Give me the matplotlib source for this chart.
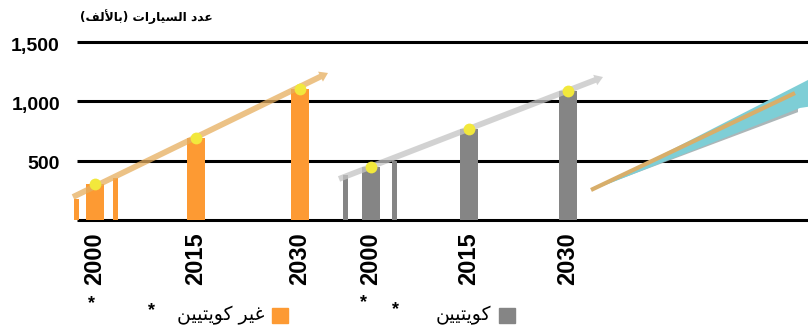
import matplotlib
matplotlib.use("Agg")
import matplotlib.pyplot as plt

# car counts in thousands
years = ["2000", "2015", "2030"]
non_kuwaiti = [300, 690, 1100]
kuwaiti = [445, 765, 1090]
# thin side bars flanking the 2000 column
non_kuwaiti_side = [177, 354]
kuwaiti_side = [380, 500]
# trend arrows: start and end value
non_kuwaiti_trend = [194, 1239]
kuwaiti_trend = [346, 1205]
# fan on the right: apex, line end, upper edge, lower edge
fan = [253, 1070, 1180, 944]
yticks = [500, 1000, 1500]
ytick_labels = ["500", "1,000", "1,500"]

title = "عدد السيارات (بالألف)"
label_non_kuwaiti = "غير كويتيين"
label_kuwaiti = "كويتيين"

# isolated, final, initial, medial
FORMS = {
    "ا": ("\uFE8D", "\uFE8E", None, None),
    "أ": ("\uFE83", "\uFE84", None, None),
    "ب": ("\uFE8F", "\uFE90", "\uFE91", "\uFE92"),
    "ت": ("\uFE95", "\uFE96", "\uFE97", "\uFE98"),
    "د": ("\uFEA9", "\uFEAA", None, None),
    "ر": ("\uFEAD", "\uFEAE", None, None),
    "س": ("\uFEB1", "\uFEB2", "\uFEB3", "\uFEB4"),
    "ع": ("\uFEC9", "\uFECA", "\uFECB", "\uFECC"),
    "غ": ("\uFECD", "\uFECE", "\uFECF", "\uFED0"),
    "ف": ("\uFED1", "\uFED2", "\uFED3", "\uFED4"),
    "ك": ("\uFED9", "\uFEDA", "\uFEDB", "\uFEDC"),
    "ل": ("\uFEDD", "\uFEDE", "\uFEDF", "\uFEE0"),
    "ن": ("\uFEE5", "\uFEE6", "\uFEE7", "\uFEE8"),
    "و": ("\uFEED", "\uFEEE", None, None),
    "ي": ("\uFEF1", "\uFEF2", "\uFEF3", "\uFEF4"),
}
LAM_ALEF = {"ا": ("\uFEFB", "\uFEFC"), "أ": ("\uFEF7", "\uFEF8")}


def shape(text):
    # pick joined letter forms, then lay the string out right to left
    out = []
    i = 0
    while i < len(text):
        c = text[i]
        if c not in FORMS:
            out.append(c)
            i += 1
            continue
        prev = text[i - 1] if i > 0 else ""
        joins_prev = prev in FORMS and FORMS[prev][2] is not None
        if c == "ل" and i + 1 < len(text) and text[i + 1] in LAM_ALEF:
            out.append(LAM_ALEF[text[i + 1]][1 if joins_prev else 0])
            i += 2
            continue
        nxt = text[i + 1] if i + 1 < len(text) else ""
        joins_next = FORMS[c][2] is not None and nxt in FORMS
        iso, fin, ini, med = FORMS[c]
        if joins_prev and joins_next:
            out.append(med)
        elif joins_prev:
            out.append(fin)
        elif joins_next:
            out.append(ini)
        else:
            out.append(iso)
        i += 1
    mirror = {"(": ")", ")": "("}
    return "".join(mirror.get(c, c) for c in reversed(out))


ORANGE = "#FD9A33"
GREY = "#858585"
W, H = 808, 331
ppu = 178 / 1500  # pixels per thousand cars

fig = plt.figure(figsize=(W / 100, H / 100), dpi=100)
ax = fig.add_axes([0, 0, 1, 1])
ax.set_xlim(0, W)
ax.set_ylim(-(H - 220) / ppu, 1500 + 42 / ppu)
ax.axis("off")

num_font = dict(family="Liberation Sans", weight="bold")

# horizontal rules incl. the baseline
ax.hlines([0] + yticks, 77, W, color="black", lw=2.2, zorder=1)
for v, lab in zip(yticks, ytick_labels):
    ax.annotate(lab, (60, v), xytext=(0, -3), textcoords="offset points",
                ha="right", va="center", fontsize=14, **num_font)

groups = [
    (non_kuwaiti, non_kuwaiti_side, non_kuwaiti_trend, ORANGE, "#E6AE5E",
     [95, 195.5, 300], [76, 115.5], [73, 328]),
    (kuwaiti, kuwaiti_side, kuwaiti_trend, GREY, "#C4C4C4",
     [371, 468.5, 567.5], [345.5, 394.5], [339, 603]),
]
for vals, side, trend, color, trend_color, xs, side_xs, trend_xs in groups:
    ax.bar(xs, vals, width=18, color=color, zorder=2)
    ax.bar(side_xs, side, width=5, color=color, zorder=2)
    ax.annotate("", xy=(trend_xs[1], trend[1]), xytext=(trend_xs[0], trend[0]),
                arrowprops=dict(arrowstyle="simple,head_length=0.6,head_width=0.8,tail_width=0.42",
                                mutation_scale=10, color=trend_color, alpha=0.75,
                                lw=0, shrinkA=0, shrinkB=0), zorder=3)
    ax.plot(xs, vals, "o", ms=8.5, color="#F2E83C", mec="none", zorder=4)
    for x, yr in zip(xs, years):
        ax.annotate(yr, (x, 0), xytext=(0, -9), textcoords="offset points",
                    rotation=90, ha="center", va="top", fontsize=17, **num_font)

# fan on the right: shadow under the lower edge, teal wedge, then the tan line
apex, line_end, upper, lower = fan
ax.fill([591, 798, 798], [apex, lower + 10, lower - 35], color="#98A4A6", alpha=0.8, lw=0, zorder=2)
ax.fill([593, W, W, 800], [apex, upper, lower + 10, lower], color="#7ECED6", lw=0, zorder=2)
ax.plot([591, 795], [apex, line_end], color="#D8AE6A", lw=3, solid_capstyle="butt", zorder=3)

# title and legend
fig.text(213 / W, 1 - 17 / H, shape(title), ha="right", va="center",
         fontsize=8.8, fontweight="bold", family="DejaVu Sans")
for x0, color, label in [(272, ORANGE, label_non_kuwaiti), (499, GREY, label_kuwaiti)]:
    fig.patches.append(plt.Rectangle((x0 / W, 1 - 323 / H), 16 / W, 15 / H,
                                     transform=fig.transFigure, color=color))
    fig.text((x0 - 8) / W, 1 - 315 / H, shape(label), ha="right", va="center",
             fontsize=13.5, family="DejaVu Sans")
for x, y in [(92, 298), (152, 305), (364, 297), (395, 304)]:
    fig.text(x / W, 1 - (y + 10) / H, "*", ha="center", va="baseline",
             fontsize=13, **num_font)

fig.savefig("out.png", dpi=100)
